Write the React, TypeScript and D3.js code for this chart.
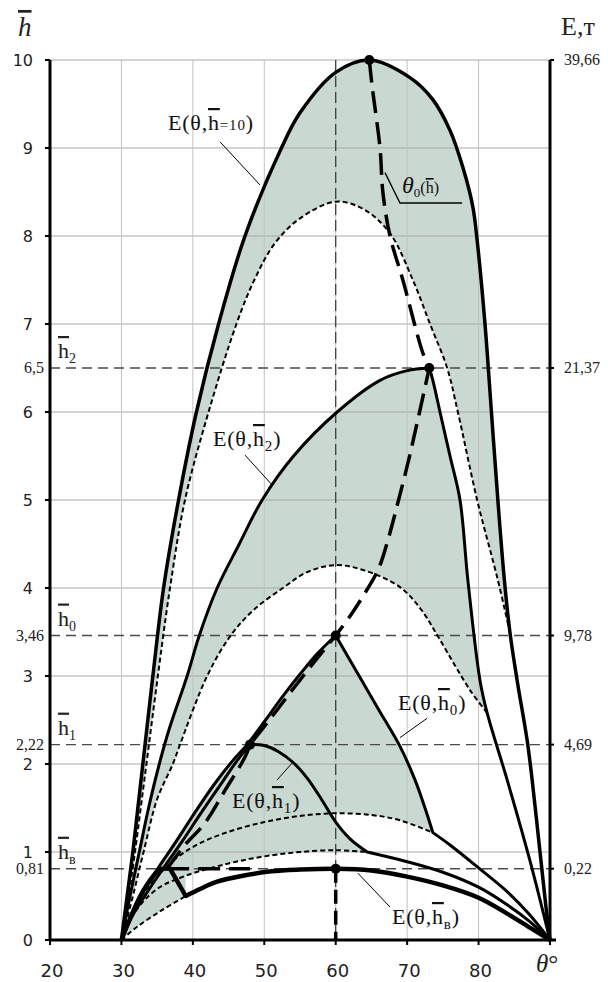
import React from 'react';
import * as d3 from 'd3';

type P = [number, number];

// Axis ticks and marked levels
const thetaTicks = [20, 30, 40, 50, 60, 70, 80];
const hTicks = [0, 1, 2, 3, 4, 5, 6, 7, 8, 9, 10];
const hLevels = [0.81, 2.22, 3.46, 6.5];
const hLevelLabels = ['0,81', '2,22', '3,46', '6,5'];
const hLevelNames = ['в', '1', '0', '2'];
const eLevels = [0.81, 2.22, 3.46, 6.5, 10];
const eLevelLabels = ['0,22', '4,69', '9,78', '21,37', '39,66'];

// E(θ, h̄=10) and its dashed companion
const e10: P[] = [[30, 0], [30.8, 0.5], [31.6, 1.0], [32.3, 1.5], [33.0, 2.0], [34.4, 3.0], [35.9, 4.0], [38.0, 5.0], [40.5, 6.0], [43.6, 7.0], [47.3, 8.0], [52.4, 9.0], [55, 9.4], [60, 9.86], [64.7, 10], [70.4, 9.8], [73.6, 9.55], [76, 9.2], [77.8, 8.78], [79.2, 8.33], [79.8, 7.95], [80.9, 7.0], [81.8, 6.0], [82.7, 5.0], [83.6, 4.1], [84.4, 3.49], [85.4, 2.95], [86.8, 2.27], [87.5, 1.82], [88.6, 1.0], [89.4, 0.4], [90, 0]];
const d10h: P[] = [[30, 0], [31, 0.5], [31.9, 1.0], [32.7, 1.5], [33.5, 2.0], [35.1, 3.0], [36.8, 4.0], [38.9, 5.0], [42.2, 6.0], [46.1, 7.0], [48.6, 7.5], [51.5, 7.92], [55, 8.2], [60, 8.39], [64, 8.3], [67.6, 8.03], [70.8, 7.5], [73.2, 7.0], [75.6, 6.5], [77.1, 6.0], [79.8, 5.0], [82.7, 4.09], [84.4, 3.49]];

// E(θ, h̄2)
const e2Left: P[] = [[30, 0], [31.2, 0.5], [32.5, 1.0], [33.8, 1.5], [35.3, 2.0], [36.7, 2.4], [39.2, 3.0], [40.9, 3.46], [43.4, 4.0], [46.5, 4.5], [49.7, 5.0], [54.1, 5.5], [60.2, 6.0], [66.2, 6.36], [70, 6.47], [73.1, 6.5]];
const e2Right: P[] = [[73.1, 6.5], [73.6, 6.36], [74.6, 6.0], [76, 5.5], [77.4, 5.0], [78.5, 4.09], [80.2, 2.95], [81.2, 2.58], [84, 1.82], [87.2, 0.9], [90, 0]];
const d2: P[] = [[30, 0], [31.6, 0.5], [33.1, 1.0], [35, 1.6], [37.2, 2.0], [38.2, 2.22], [42.0, 3.0], [45.3, 3.46], [48.5, 3.75], [52.6, 4.0], [56, 4.18], [60, 4.26], [64, 4.2], [69, 4.01], [72, 3.75], [74.6, 3.41], [78.8, 2.84], [81.2, 2.58]];

// E(θ, h̄0)
const e0Left: P[] = [[30, 0], [31.5, 0.3], [33, 0.55], [35, 0.8], [37.5, 1.1], [40.3, 1.45], [43, 1.77], [45.5, 2.03], [47.6, 2.22], [50, 2.48], [52.5, 2.76], [55, 3.02], [57.5, 3.26], [60, 3.46]];
const e0Right: P[] = [[60, 3.46], [63, 3.04], [66, 2.62], [69, 2.2], [71.1, 1.82], [72.5, 1.5], [73.6, 1.22]];
const e0Tail: P[] = [[73.6, 1.22], [76, 1.08], [80, 0.82], [84, 0.55], [87, 0.3], [90, 0]];
const d0: P[] = [[30, 0], [32, 0.4], [35, 0.72], [38, 0.95], [41, 1.1], [45, 1.23], [50, 1.34], [55, 1.41], [60, 1.44], [65, 1.42], [69, 1.36], [73.6, 1.22]];

// E(θ, h̄1)
const e1Left: P[] = [[30, 0], [31.5, 0.27], [33.5, 0.53], [36, 0.83], [38.5, 1.12], [41.2, 1.45], [44, 1.78], [46.3, 2.05], [48, 2.22]];
const e1Right: P[] = [[48, 2.22], [50, 2.21], [52, 2.14], [54, 2.02], [56, 1.84], [58, 1.6], [60, 1.34], [62, 1.15], [64.4, 1.0]];
const e1Tail: P[] = [[64.4, 1.0], [70, 0.89], [75, 0.77], [80, 0.6], [84, 0.4], [87, 0.22], [90, 0]];
const d1: P[] = [[30, 0], [32, 0.33], [35, 0.58], [39, 0.73], [45, 0.87], [50, 0.95], [55, 1.0], [60, 1.02], [64.4, 1.0]];

// E(θ, h̄в)
const dB: P[] = [[30, 0], [32.2, 0.15], [35.5, 0.33], [39, 0.5]];
const ebRise: P[] = [[30, 0], [31.5, 0.3], [33.2, 0.58], [35.4, 0.8], [36.8, 0.81]];
const ebKink: P[] = [[36.8, 0.81], [39, 0.5]];
const ebArc: P[] = [[39, 0.5], [41, 0.58], [43.3, 0.66], [47, 0.73], [51, 0.78], [55, 0.8], [60, 0.81], [65, 0.79], [70, 0.72], [75, 0.62], [80, 0.48], [84, 0.3], [87, 0.15], [90, 0]];

// θ0(h̄): locus of the maxima
const t0Low: P[] = [[36.4, 0.81], [38.9, 1.08], [41.7, 1.33], [44.5, 1.7], [47.3, 2.08], [48, 2.22]];
const t0Mid: P[] = [[48, 2.22], [51, 2.53], [54, 2.85], [57, 3.16], [60, 3.46]];
const t0Up: P[] = [[60, 3.46], [62, 3.68], [64, 3.93], [66, 4.22], [67.5, 4.6], [68.8, 5.0], [70.2, 5.45], [71.6, 5.95], [73.1, 6.5]];
const t0Top: P[] = [[73.1, 6.5], [72.2, 6.67], [69.4, 7.5], [67.6, 8.0], [66.6, 8.5], [66.2, 9.0], [65.1, 9.7], [64.7, 10]];
const t0Base: P[] = [[36.4, 0.81], [48, 0.81]];

const maxima: P[] = [[64.7, 10], [73.1, 6.5], [60, 3.46], [48, 2.22], [60, 0.81]];

const W = 608;
const H = 982;
const x = d3.scaleLinear().domain([20, 90]).range([50, 550]);
const y = d3.scaleLinear().domain([0, 10]).range([940, 60]);

const smooth = d3.line<P>().x((d) => x(d[0])).y((d) => y(d[1])).curve(d3.curveCatmullRom.alpha(0.5));
const chain = (...parts: P[][]) =>
  parts.map((p, i) => (i === 0 ? smooth(p)! : smooth(p)!.replace(/^M/, 'L'))).join('');
const upTo = (pts: P[], end: P) => pts.slice(0, pts.findIndex((p) => p[0] === end[0] && p[1] === end[1]) + 1);
const rev = (pts: P[]) => pts.slice().reverse();

const FILL = '#c9d8d0';
const SERIF = "'Liberation Serif', 'Times New Roman', serif";
const SANS = "'DejaVu Sans', Verdana, sans-serif";

function ELabel({ px, py, sub, eq }: { px: number; py: number; sub?: string; eq?: string }) {
  return (
    <text x={px} y={py} fontFamily={SERIF} fontSize={22} letterSpacing={0.8} fill="#111">
      E(θ,
      <tspan style={{ textDecoration: 'overline' }}>h</tspan>
      {sub ? (
        <>
          <tspan fontSize={15} dy={5}>{sub}</tspan>
          <tspan dy={-5}>)</tspan>
        </>
      ) : (
        <>
          <tspan fontSize={15}>{eq}</tspan>
          <tspan>)</tspan>
        </>
      )}
    </text>
  );
}

export default function App() {
  const fillA = chain(upTo(e10, d10h[d10h.length - 1]), rev(d10h)) + 'Z';
  const fillB = chain(e2Left, upTo(e2Right, d2[d2.length - 1]), rev(d2)) + 'Z';
  const fillC = chain(e0Left, e0Right, rev(d0)) + 'Z';
  const fillD = chain(e1Left, e1Right, rev(d1)) + 'Z';
  const fillE = chain(d1.slice(0, 4), [d1[3], dB[dB.length - 1]], rev(dB)) + 'Z';

  return (
    <svg width={W} height={H} style={{ position: 'absolute', left: 0, top: 0, background: '#fff' }}>
      <rect width={W} height={H} fill="#fff" />

      {/* shaded bands */}
      <g fill={FILL} stroke="none">
        <path d={fillA} />
        <path d={fillB} />
        <path d={fillC} />
        <path d={fillD} />
        <path d={fillE} />
      </g>

      {/* grid */}
      <g stroke="#a9a9a9" strokeWidth={1}>
        {hTicks.filter((t) => t > 0).map((t) => (
          <line key={'gh' + t} x1={x(20)} x2={x(90)} y1={y(t)} y2={y(t)} />
        ))}
      </g>
      <g stroke="#c2c2c2" strokeWidth={1}>
        {thetaTicks.filter((t) => t > 20).map((t) => (
          <line key={'gv' + t} x1={x(t)} x2={x(t)} y1={y(0)} y2={y(10)} />
        ))}
      </g>

      {/* marked levels */}
      <g stroke="#4a4a4a" strokeWidth={1.4} strokeDasharray="10 6">
        {hLevels.map((h) => (
          <line key={'lv' + h} x1={x(20)} x2={x(90)} y1={y(h)} y2={y(h)} />
        ))}
      </g>
      <line x1={x(60)} x2={x(60)} y1={y(10)} y2={y(0)} stroke="#333" strokeWidth={1.2} strokeDasharray="11 5" />
      <line x1={x(60)} x2={x(60)} y1={y(0.81)} y2={y(0)} stroke="#000" strokeWidth={3.5} strokeDasharray="14 7" />

      {/* dashed companion curves */}
      <g fill="none" stroke="#000" strokeWidth={2} strokeDasharray="5 3">
        <path d={smooth(d10h)!} />
        <path d={smooth(d2)!} />
        <path d={smooth(d0)!} />
        <path d={smooth(d1)!} />
        <path d={smooth(dB)!} />
      </g>

      {/* E curves */}
      <g fill="none" stroke="#000" strokeLinejoin="round">
        <path d={smooth(e10)!} strokeWidth={3.5} />
        <path d={chain(e2Left, e2Right)} strokeWidth={3} />
        <path d={chain(e0Left, e0Right, e0Tail)} strokeWidth={3} />
        <path d={chain(e1Left, e1Right, e1Tail)} strokeWidth={3} />
        <path d={chain(ebRise, ebKink, ebArc)} strokeWidth={4.5} />
      </g>

      {/* θ0(h̄) */}
      <g fill="none" stroke="#000" strokeWidth={3.5}>
        <path d={chain(t0Low, t0Mid, t0Up, t0Top)} strokeDasharray="22 9" />
        <path d={smooth(t0Base)!} strokeDasharray="22 9" />
      </g>
      {maxima.map((p, i) => (
        <circle key={'m' + i} cx={x(p[0])} cy={y(p[1])} r={5} fill="#000" />
      ))}

      {/* leaders */}
      <g stroke="#000" strokeWidth={1} fill="none">
        <line x1={x(43.8)} y1={y(9.07)} x2={x(49.4)} y2={y(8.58)} />
        <line x1={x(47.3)} y1={y(5.51)} x2={x(51.1)} y2={y(5.17)} />
        <line x1={x(51.8)} y1={y(1.82)} x2={x(54)} y2={y(2.02)} />
        <line x1={x(72.8)} y1={y(2.52)} x2={x(69)} y2={y(2.3)} />
        <line x1={x(67.6)} y1={y(0.375)} x2={x(63.1)} y2={y(0.76)} />
        <polyline points={`${x(66.9)},${y(8.72)} ${x(69)},${y(8.375)} ${x(77.7)},${y(8.375)}`} strokeWidth={1.3} />
      </g>

      {/* curve labels */}
      <ELabel px={168} py={130} eq="=10" />
      <ELabel px={213} py={446} sub="2" />
      <ELabel px={232} py={808} sub="1" />
      <ELabel px={398} py={710} sub="0" />
      <ELabel px={392} py={924} sub="в" />
      <text x={402} y={193} fontFamily={SERIF} fill="#111">
        <tspan fontSize={24} fontStyle="italic">θ</tspan>
        <tspan fontSize={13} dy={4}>0</tspan>
        <tspan fontSize={16} dy={-4}>(</tspan>
        <tspan fontSize={16} style={{ textDecoration: 'overline' }}>h</tspan>
        <tspan fontSize={16}>)</tspan>
      </text>

      {/* axes */}
      <g stroke="#000" fill="none">
        <line x1={x(20)} x2={x(20)} y1={y(0)} y2={y(10)} strokeWidth={3} />
        <line x1={x(90)} x2={x(90)} y1={y(0)} y2={y(10)} strokeWidth={3} />
        <line x1={x(20)} x2={x(90) + 6} y1={y(0)} y2={y(0)} strokeWidth={3} />
        {hTicks.map((t) => (
          <line key={'tl' + t} x1={x(20) - 5} x2={x(20)} y1={y(t)} y2={y(t)} strokeWidth={2} />
        ))}
        {[...thetaTicks, 90].map((t) => (
          <line key={'tb' + t} x1={x(t)} x2={x(t)} y1={y(0)} y2={y(0) + 5} strokeWidth={2} />
        ))}
        {eLevels.map((h) => (
          <line key={'tr' + h} x1={x(90)} x2={x(90) + 4} y1={y(h)} y2={y(h)} strokeWidth={2} />
        ))}
      </g>

      {/* tick labels */}
      <g fontFamily={SANS} fontSize={16} fill="#222" textAnchor="end">
        {hTicks.map((t) => (
          <text key={'lt' + t} x={33} y={y(t)} dy="0.36em">{t}</text>
        ))}
      </g>
      <g fontFamily={SERIF} fontSize={16} fill="#222" textAnchor="end">
        {hLevels.map((h, i) => (
          <text key={'ll' + h} x={44} y={y(h)} dy="0.34em">{hLevelLabels[i]}</text>
        ))}
      </g>
      <g fontFamily={SERIF} fontSize={22} fill="#222">
        {hLevels.map((h, i) => (
          <text key={'ln' + h} x={58} y={y(h) - 10}>
            <tspan style={{ textDecoration: 'overline' }}>h</tspan>
            <tspan fontSize={14} dy={5}>{hLevelNames[i]}</tspan>
          </text>
        ))}
      </g>
      <g fontFamily={SERIF} fontSize={16} fill="#222">
        {eLevels.map((h, i) => (
          <text key={'re' + h} x={564} y={y(h)} dy="0.34em">{eLevelLabels[i]}</text>
        ))}
      </g>
      <g fontFamily={SANS} fontSize={18} fill="#222" textAnchor="middle">
        {thetaTicks.map((t) => (
          <text key={'bt' + t} x={x(t) + 2} y={977}>{t}</text>
        ))}
      </g>

      {/* axis titles */}
      <text x={18} y={36} fontFamily={SERIF} fontSize={27} fontStyle="italic" fill="#222" style={{ textDecoration: 'overline' }}>h</text>
      <text x={561} y={35} fontFamily={SERIF} fontSize={26} fill="#222">E,т</text>
      <text x={536} y={972} fontFamily={SERIF} fontSize={25} fill="#222">
        <tspan fontStyle="italic">θ</tspan>°
      </text>
    </svg>
  );
}
